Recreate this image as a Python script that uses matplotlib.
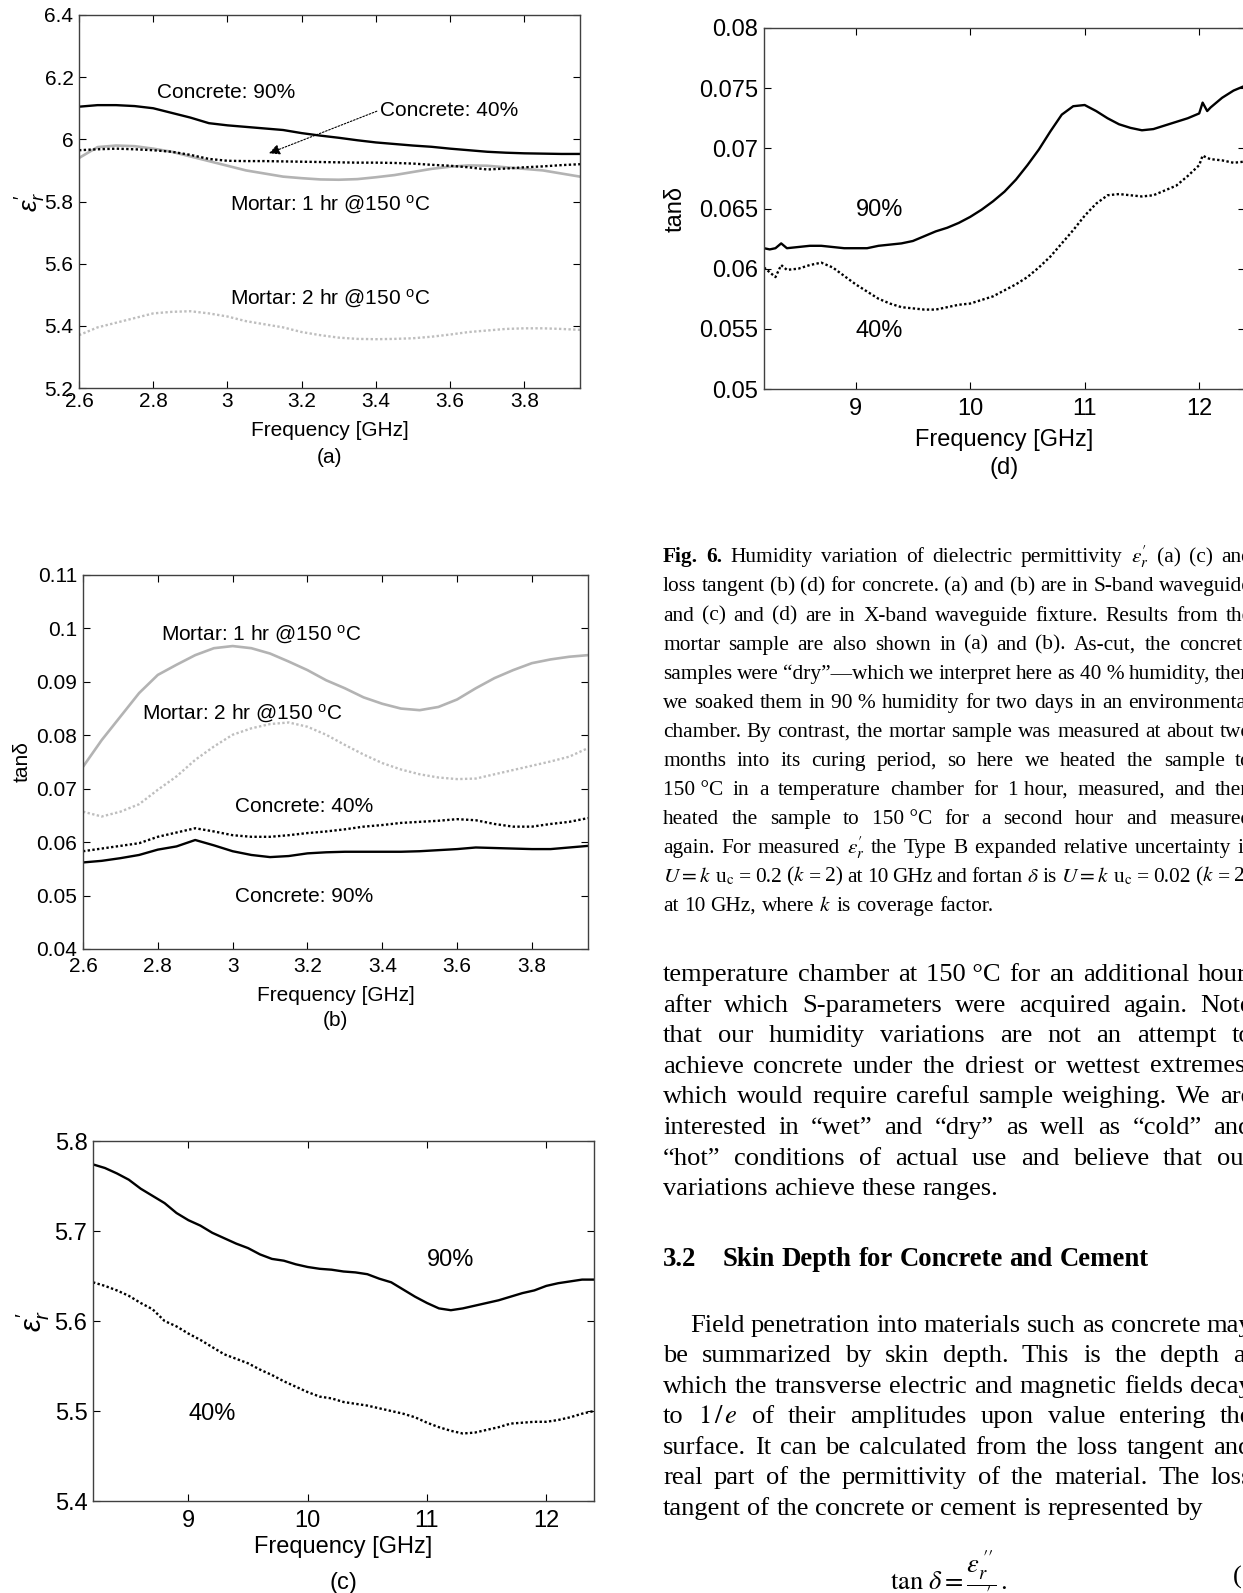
import numpy as np
import matplotlib
matplotlib.use("Agg")
import matplotlib.pyplot as plt
from matplotlib.ticker import FormatStrFormatter

plt.rcParams['font.family'] = ['Liberation Sans', 'DejaVu Sans']
plt.rcParams['mathtext.fontset'] = 'custom'
plt.rcParams['mathtext.rm'] = 'Liberation Sans'
plt.rcParams['mathtext.it'] = 'Liberation Sans:italic'
plt.rcParams['mathtext.bf'] = 'Liberation Sans:bold'

W, H = 1243, 1593

# ---------------- data ----------------
# S-band (a), (b)
s_freq = [2.60, 2.65, 2.70, 2.75, 2.80, 2.85, 2.90, 2.95, 3.00, 3.05, 3.10, 3.15, 3.20, 3.25,
          3.30, 3.35, 3.40, 3.45, 3.50, 3.55, 3.60, 3.65, 3.70, 3.75, 3.80, 3.85, 3.90, 3.95]

a_conc90 = [6.105, 6.110, 6.110, 6.107, 6.100, 6.085, 6.070, 6.052, 6.045, 6.040, 6.035, 6.030, 6.020, 6.012,
            6.005, 5.997, 5.990, 5.985, 5.980, 5.976, 5.970, 5.965, 5.960, 5.957, 5.955, 5.954, 5.953, 5.953]
a_conc40 = [5.965, 5.968, 5.970, 5.968, 5.965, 5.960, 5.950, 5.937, 5.931, 5.930, 5.930, 5.929, 5.928, 5.927,
            5.926, 5.925, 5.925, 5.924, 5.922, 5.918, 5.915, 5.910, 5.903, 5.906, 5.910, 5.913, 5.917, 5.920]
a_mort1 = [5.940, 5.975, 5.980, 5.978, 5.970, 5.960, 5.945, 5.930, 5.915, 5.900, 5.890, 5.880, 5.875, 5.871,
           5.870, 5.872, 5.878, 5.885, 5.895, 5.905, 5.912, 5.916, 5.915, 5.910, 5.905, 5.900, 5.890, 5.880]
a_mort2 = [5.370, 5.395, 5.410, 5.425, 5.440, 5.445, 5.447, 5.440, 5.430, 5.415, 5.405, 5.395, 5.380, 5.370,
           5.362, 5.358, 5.357, 5.358, 5.360, 5.365, 5.372, 5.380, 5.385, 5.390, 5.392, 5.392, 5.390, 5.387]

b_mort1 = [0.0741, 0.0791, 0.0835, 0.0879, 0.0913, 0.0932, 0.0950, 0.0963, 0.0967, 0.0963, 0.0953, 0.0938, 0.0922, 0.0903,
           0.0888, 0.0871, 0.0859, 0.0850, 0.0847, 0.0853, 0.0867, 0.0888, 0.0907, 0.0922, 0.0935, 0.0942, 0.0947, 0.0950]
b_mort2 = [0.0657, 0.0648, 0.0657, 0.0671, 0.0698, 0.0723, 0.0754, 0.0779, 0.0801, 0.0813, 0.0821, 0.0824, 0.0816, 0.0801,
           0.0782, 0.0764, 0.0748, 0.0736, 0.0727, 0.0721, 0.0718, 0.0719, 0.0727, 0.0735, 0.0743, 0.0751, 0.0760, 0.0776]
b_conc40 = [0.0583, 0.0588, 0.0593, 0.0598, 0.0610, 0.0618, 0.0626, 0.0620, 0.0613, 0.0610, 0.0610, 0.0613, 0.0617, 0.0620,
            0.0624, 0.0629, 0.0632, 0.0636, 0.0638, 0.0640, 0.0643, 0.0641, 0.0634, 0.0629, 0.0629, 0.0634, 0.0638, 0.0645]
b_conc90 = [0.0562, 0.0565, 0.0570, 0.0576, 0.0586, 0.0592, 0.0604, 0.0594, 0.0583, 0.0576, 0.0572, 0.0574, 0.0579, 0.0581,
            0.0582, 0.0582, 0.0582, 0.0582, 0.0583, 0.0585, 0.0587, 0.0590, 0.0589, 0.0588, 0.0587, 0.0587, 0.0590, 0.0593]

# X-band (c)
c_freq = [8.2, 8.3, 8.4, 8.5, 8.6, 8.7, 8.8, 8.9, 9.0, 9.1, 9.2, 9.3, 9.4, 9.5, 9.6, 9.7, 9.8, 9.9,
          10.0, 10.1, 10.2, 10.3, 10.4, 10.5, 10.6, 10.7, 10.8, 10.9, 11.0, 11.1, 11.2, 11.3, 11.4, 11.5,
          11.6, 11.7, 11.8, 11.9, 12.0, 12.1, 12.2, 12.3, 12.4]
c_90 = [5.774, 5.770, 5.764, 5.757, 5.747, 5.739, 5.731, 5.720, 5.712, 5.706, 5.698, 5.692, 5.686, 5.681,
        5.674, 5.669, 5.667, 5.663, 5.660, 5.658, 5.657, 5.655, 5.654, 5.652, 5.647, 5.643, 5.635, 5.627,
        5.620, 5.614, 5.612, 5.614, 5.617, 5.620, 5.623, 5.627, 5.631, 5.634, 5.639, 5.642, 5.644, 5.646, 5.646]
c_40 = [5.643, 5.639, 5.634, 5.628, 5.620, 5.613, 5.600, 5.594, 5.586, 5.579, 5.571, 5.563, 5.558, 5.553,
        5.546, 5.540, 5.533, 5.527, 5.521, 5.516, 5.514, 5.510, 5.508, 5.506, 5.503, 5.500, 5.497, 5.493,
        5.487, 5.482, 5.478, 5.475, 5.476, 5.479, 5.482, 5.486, 5.487, 5.488, 5.488, 5.490, 5.493, 5.497, 5.500]

# X-band (d)
d_freq = [8.2, 8.25, 8.3, 8.35, 8.4, 8.5, 8.6, 8.7, 8.8, 8.9, 9.0, 9.1, 9.2, 9.3, 9.4, 9.5, 9.6, 9.7, 9.8, 9.9,
          10.0, 10.1, 10.2, 10.3, 10.4, 10.5, 10.6, 10.7, 10.8, 10.9, 11.0, 11.1, 11.2, 11.3, 11.4, 11.5,
          11.6, 11.7, 11.8, 11.9, 12.0, 12.03, 12.07, 12.1, 12.2, 12.3, 12.4]
d_90 = [0.0617, 0.0616, 0.0617, 0.0621, 0.0617, 0.0618, 0.0619, 0.0619, 0.0618, 0.0617, 0.0617, 0.0617, 0.0619, 0.0620,
        0.0621, 0.0623, 0.0627, 0.0631, 0.0634, 0.0638, 0.0643, 0.0649, 0.0656, 0.0664, 0.0674, 0.0686, 0.0699, 0.0714,
        0.0728, 0.0735, 0.0736, 0.0731, 0.0725, 0.0720, 0.0717, 0.0715, 0.0716, 0.0719, 0.0722, 0.0725, 0.0729, 0.0738,
        0.0731, 0.0734, 0.0742, 0.0748, 0.0752]
d_40 = [0.0601, 0.0597, 0.0593, 0.0603, 0.0599, 0.0600, 0.0603, 0.0605, 0.0601, 0.0594, 0.0587, 0.0581, 0.0575, 0.0571,
        0.0568, 0.0567, 0.0566, 0.0566, 0.0568, 0.0570, 0.0571, 0.0574, 0.0577, 0.0582, 0.0587, 0.0593, 0.0601, 0.0610,
        0.0621, 0.0632, 0.0644, 0.0654, 0.0661, 0.0662, 0.0661, 0.0660, 0.0661, 0.0665, 0.0669, 0.0677, 0.0686, 0.0694,
        0.0692, 0.0691, 0.0690, 0.0688, 0.0689]

s_xticks = [2.6, 2.8, 3.0, 3.2, 3.4, 3.6, 3.8]
x_xticks = [9, 10, 11, 12]
a_yticks = [5.2, 5.4, 5.6, 5.8, 6.0, 6.2, 6.4]
b_yticks = [0.04, 0.05, 0.06, 0.07, 0.08, 0.09, 0.10, 0.11]
c_yticks = [5.4, 5.5, 5.6, 5.7, 5.8]
d_yticks = [0.05, 0.055, 0.06, 0.065, 0.07, 0.075, 0.08]

mortar1 = r"Mortar: 1 hr @150 $^{\mathrm{o}}$C"
mortar2 = r"Mortar: 2 hr @150 $^{\mathrm{o}}$C"
eps_lab = r"$\varepsilon_r^{\prime}$"

# ---------------- figure ----------------
fig = plt.figure(figsize=(W / 100, H / 100), dpi=100)


def box(l, t, r, b):
    return fig.add_axes([l / W, 1 - b / H, (r - l) / W, (b - t) / H])


def style(ax, fs, xpad, ypad, xlab_y, sub_y, ylab_x, sub, ylab_fs=None):
    ax.tick_params(direction='in', length=5, width=0.8, top=True, right=True,
                   labelsize=fs, colors='k')
    ax.tick_params(axis='x', pad=xpad)
    ax.tick_params(axis='y', pad=ypad)
    for s in ax.spines.values():
        s.set_color('#404040')
        s.set_linewidth(1.0)
    ax.yaxis.set_major_formatter(FormatStrFormatter('%g'))
    ax.xaxis.set_major_formatter(FormatStrFormatter('%g'))
    ax.set_xlabel("Frequency [GHz]", fontsize=fs)
    ax.xaxis.set_label_coords(0.5, xlab_y)
    ax.xaxis.label.set_va('center')
    ax.yaxis.set_label_coords(ylab_x, 0.5)
    ax.yaxis.label.set_va('center')
    ax.yaxis.label.set_fontsize(ylab_fs or fs)
    ax.text(0.5, sub_y, sub, transform=ax.transAxes, ha='center', va='center', fontsize=fs)


black = dict(color='k', lw=1.7)
black_dot = dict(color='k', lw=1.7, ls=(0, (1, 1)))
gray = dict(color='#b3b3b3', lw=1.9)
gray_dot = dict(color='#bebebe', lw=1.7, ls=(0, (1, 1)))

# (a)
axA = box(79, 15, 580, 388)
axA.plot(s_freq, a_mort1, **gray)
axA.plot(s_freq, a_mort2, **gray_dot)
axA.plot(s_freq, a_conc40, **black_dot)
axA.plot(s_freq, a_conc90, **black)
axA.set_xlim(2.6, 3.95)
axA.set_ylim(5.2, 6.4)
axA.set_xticks(s_xticks)
axA.set_yticks(a_yticks)
axA.set_ylabel(eps_lab)
style(axA, 15, 3.2, 4, -0.113, -0.185, -0.097, "(a)", ylab_fs=19)
axA.text(2.81, 6.15, "Concrete: 90%", fontsize=15, va='center')
axA.annotate("Concrete: 40%", xy=(3.112, 5.955), xytext=(3.41, 6.094), fontsize=15,
             ha='left', va='center',
             arrowprops=dict(arrowstyle='-|>', color='k', lw=0.8, ls=(0, (1.5, 1.5)),
                             mutation_scale=16, shrinkA=0, shrinkB=0, relpos=(0, 0.5)))
axA.text(3.277, 5.79, mortar1, fontsize=15, ha='center', va='center')
axA.text(3.277, 5.488, mortar2, fontsize=15, ha='center', va='center')

# (b)
axB = box(83, 575, 588, 949)
axB.plot(s_freq, b_mort1, **gray)
axB.plot(s_freq, b_mort2, **gray_dot)
axB.plot(s_freq, b_conc40, **black_dot)
axB.plot(s_freq, b_conc90, **black)
axB.set_xlim(2.6, 3.95)
axB.set_ylim(0.04, 0.11)
axB.set_xticks(s_xticks)
axB.set_yticks(b_yticks)
axB.set_ylabel("tanδ")
style(axB, 15, 5.8, 4, -0.123, -0.192, -0.12, "(b)")
axB.text(3.076, 0.0988, mortar1, fontsize=15, ha='center', va='center')
axB.text(3.025, 0.0841, mortar2, fontsize=15, ha='center', va='center')
axB.text(3.19, 0.0666, "Concrete: 40%", fontsize=15, ha='center', va='center')
axB.text(3.19, 0.0498, "Concrete: 90%", fontsize=15, ha='center', va='center')

# (c)
axC = box(93, 1141, 594, 1501)
axC.plot(c_freq, c_40, **black_dot)
axC.plot(c_freq, c_90, **black)
axC.set_xlim(8.2, 12.4)
axC.set_ylim(5.4, 5.8)
axC.set_xticks(x_xticks)
axC.set_yticks(c_yticks)
axC.set_ylabel(eps_lab)
style(axC, 17, 6.5, 4, -0.128, -0.228, -0.118, "(c)", ylab_fs=21)
axC.text(11.2, 5.668, "90%", fontsize=17, ha='center', va='center')
axC.text(9.2, 5.497, "40%", fontsize=17, ha='center', va='center')

# (d)
axD = box(764, 28, 1245, 389)
axD.plot(d_freq, d_40, **black_dot)
axD.plot(d_freq, d_90, **black)
axD.set_xlim(8.2, 12.4)
axD.set_ylim(0.05, 0.08)
axD.set_xticks(x_xticks)
axD.set_yticks(d_yticks)
axD.set_ylabel("tanδ")
style(axD, 17, 6.5, 4, -0.141, -0.219, -0.183, "(d)")
axD.text(9.21, 0.0649, "90%", fontsize=17, ha='center', va='center')
axD.text(9.21, 0.0548, "40%", fontsize=17, ha='center', va='center')

# ---------------- caption and body text ----------------
caption = [
    r"Fig. 6. Humidity variation of dielectric permittivity $\varepsilon_r^{\prime}$ (a) (c) and",
    "loss tangent (b) (d) for concrete. (a) and (b) are in S-band waveguide",
    "and (c) and (d) are in X-band waveguide fixture. Results from the",
    "mortar sample are also shown in (a) and (b). As-cut, the concrete",
    "samples were \u201cdry\u201d\u2014which we interpret here as 40\u00a0% humidity, then",
    "we soaked them in 90\u00a0% humidity for two days in an environmental",
    "chamber. By contrast, the mortar sample was measured at about two",
    "months into its curing period, so here we heated the sample to",
    "150\u00a0\u00b0C in a temperature chamber for 1\u00a0hour, measured, and then",
    "heated the sample to 150\u00a0\u00b0C for a second hour and measured",
    r"again. For measured $\varepsilon_r^{\prime}$ the Type B expanded relative uncertainty is",
    r"$U = k$ u$_{\mathrm{c}}$ = 0.2 ($k$ = 2) at 10 GHz and fortan $\delta$ is $U = k$ u$_{\mathrm{c}}$ = 0.02 ($k$ = 2)",
    r"at 10 GHz, where $k$ is coverage factor.",
]
body1 = [
    "temperature chamber at 150\u00a0\u00b0C for an additional hour,",
    "after which S-parameters were acquired again. Note",
    "that our humidity variations are not an attempt to",
    "achieve concrete under the driest or wettest extremes,",
    "which would require careful sample weighing. We are",
    "interested in \u201cwet\u201d and \u201cdry\u201d as well as \u201ccold\u201d and",
    "\u201chot\u201d conditions of actual use and believe that our",
    "variations achieve these ranges.",
]
heading_num = "3.2"
heading = "Skin Depth for Concrete and Cement"
body2 = [
    "Field penetration into materials such as concrete may",
    "be summarized by skin depth. This is the depth at",
    "which the transverse electric and magnetic fields decay",
    r"to $1\,/\,e$ of their amplitudes upon value entering the",
    "surface. It can be calculated from the loss tangent and",
    "real part of the permittivity of the material. The loss",
    "tangent of the concrete or cement is represented by",
]
equation = r"$\tan\,\delta = \dfrac{\varepsilon_r^{\,\prime\prime}}{\varepsilon_r^{\,\prime}}\,.$"

rend = fig.canvas.get_renderer()
SERIF = 'Liberation Serif'


def split_tokens(s):
    out = []
    for w in s.split(' '):
        if out and out[-1].count('$') % 2 == 1:
            out[-1] += ' ' + w
        else:
            out.append(w)
    return out


def fit_size(s, target, weight='normal'):
    t = fig.text(0, 0, s, fontsize=10, family=SERIF, weight=weight, math_fontfamily='stix')
    w = t.get_window_extent(rend).width
    t.remove()
    return 10 * target / w


def put_line(s, yc, fs, x0=663, x1=1252, justify=True, nbold=0, weight='normal'):
    toks = split_tokens(s)
    arts = []
    for i, tk in enumerate(toks):
        wt = 'bold' if (i < nbold or weight == 'bold') else 'normal'
        arts.append(fig.text(0, 0, tk, fontsize=fs, family=SERIF, weight=wt,
                             math_fontfamily='stix', va='baseline', ha='left'))
    ws = [a.get_window_extent(rend).width for a in arts]
    sp = fs * 100 / 72 * 0.25
    if justify and len(toks) > 1:
        sp = max((x1 - x0 - sum(ws)) / (len(toks) - 1), sp * 0.6)
    yb = yc + 0.3 * fs * 100 / 72
    x = x0
    for a, w in zip(arts, ws):
        a.set_position((x / W, 1 - yb / H))
        x += w + sp


cap_fs = fit_size(r"at 10 GHz, where $k$ is coverage factor.", 329)
body_fs = fit_size("variations achieve these ranges.", 336)
head_fs = fit_size(heading, 426, weight='bold')

for i, line in enumerate(caption):
    put_line(line, 556 + i * 29.05, cap_fs, justify=(i < len(caption) - 1), nbold=2 if i == 0 else 0)

for i, line in enumerate(body1):
    put_line(line, 973 + i * 30.6, body_fs, justify=(i < len(body1) - 1))

put_line(heading_num, 1258, head_fs, justify=False, weight='bold')
put_line(heading, 1258, head_fs, x0=723, justify=False, weight='bold')

for i, line in enumerate(body2):
    put_line(line, 1324 + i * 30.5, body_fs, x0=690 if i == 0 else 663,
             justify=(i < len(body2) - 1))

fig.text(890 / W, 1 - 1584 / H, equation, fontsize=body_fs, family=SERIF,
         math_fontfamily='stix', ha='left', va='center')
fig.text(1233 / W, 1 - 1577 / H, "(1)", fontsize=body_fs, family=SERIF, ha='left', va='center')

fig.savefig("out.png", dpi=100)
